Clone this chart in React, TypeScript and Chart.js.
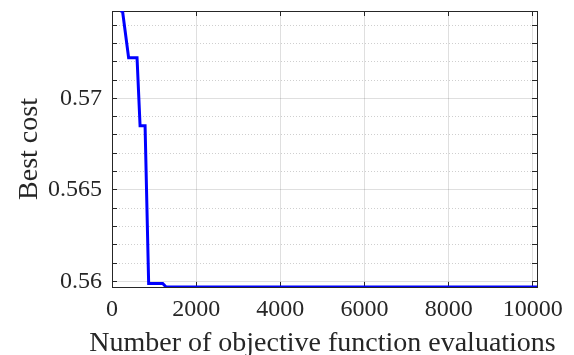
import React, { useEffect, useRef } from "react";
import { Chart, registerables } from "chart.js";

Chart.register(...registerables);

// Data
const evaluations = [195, 250, 395, 595, 667, 786, 871, 1205, 1286, 10100];
const bestCost = [0.57477, 0.57477, 0.57222, 0.57222, 0.5685, 0.5685, 0.55989, 0.55989, 0.5597, 0.5597];

const xTicks = [0, 2000, 4000, 6000, 8000, 10000];
const xTickLabels = ["0", "2000", "4000", "6000", "8000", "10000"];
const yMajorTicks = [0.56, 0.565, 0.57];
const yTickLabels = ["0.56", "0.565", "0.57"];
const yMinorTicks = [0.56, 0.561, 0.562, 0.563, 0.564, 0.565, 0.566, 0.567, 0.568, 0.569, 0.57, 0.571, 0.572, 0.573, 0.574];
const xTitle = "Number of objective function evaluations";
const yTitle = "Best cost";

const X_MIN = 0;
const X_MAX = 10100;
const Y_MIN = 0.5597;
const Y_MAX = 0.57477;

const FONT = "'Liberation Serif', 'Times New Roman', serif";
const AXIS = "#262626";
const MAJOR_GRID = "rgba(38,38,38,0.15)";
const MINOR_GRID = "rgba(38,38,38,0.22)";

const majorIndex = (v: number) => yMajorTicks.findIndex((m) => Math.abs(m - v) < 1e-7);

const zeroPad = (scale: any) => {
  scale.paddingLeft = 0;
  scale.paddingRight = 0;
  scale.paddingTop = 0;
  scale.paddingBottom = 0;
};

const xTitlePlugin = {
  id: "xTitlePlugin",
  afterDraw(chart: any) {
    const { ctx, chartArea } = chart;
    ctx.save();
    ctx.font = `28px ${FONT}`;
    ctx.fillStyle = AXIS;
    ctx.textAlign = "center";
    ctx.textBaseline = "alphabetic";
    ctx.fillText(xTitle, (chartArea.left + chartArea.right) / 2 - 2, 351);
    ctx.restore();
  },
};

export default function App() {
  const ref = useRef<HTMLCanvasElement>(null);
  useEffect(() => {
    if (!ref.current) return;
    const yTicksBuild = (scale: any) => {
      scale.ticks = yMinorTicks.map((v) => ({ value: v }));
    };
    const xTicksBuild = (scale: any) => {
      scale.ticks = xTicks.map((v) => ({ value: v }));
    };
    const yGridColor = (ctx: any) => {
      if (!ctx.tick) return MAJOR_GRID;
      return majorIndex(ctx.tick.value) >= 0 ? MAJOR_GRID : MINOR_GRID;
    };
    const yGridDash = (ctx: any) => {
      if (!ctx.tick) return [];
      return majorIndex(ctx.tick.value) >= 0 ? [] : [1, 2];
    };
    const chart = new Chart(ref.current, {
      type: "line",
      data: {
        datasets: [
          {
            data: evaluations.map((x, i) => ({ x, y: bestCost[i] })),
            borderColor: "#0000ff",
            borderWidth: 3,
            pointRadius: 0,
            tension: 0,
            fill: false,
          },
        ],
      },
      plugins: [xTitlePlugin],
      options: {
        responsive: false,
        animation: false,
        layout: { padding: { top: 11, right: 37, left: 0, bottom: 0 } },
        plugins: { legend: { display: false }, tooltip: { enabled: false } },
        scales: {
          x: {
            type: "linear",
            position: "bottom",
            min: X_MIN,
            max: X_MAX,
            afterBuildTicks: xTicksBuild,
            afterFit: (scale: any) => {
              scale.height = 68;
              zeroPad(scale);
            },
            ticks: {
              autoSkip: false,
              maxRotation: 0,
              padding: 13,
              color: AXIS,
              font: { family: FONT, size: 24 },
              callback: (v: any, i: number) => xTickLabels[i],
            },
            grid: {
              color: MAJOR_GRID,
              lineWidth: 1,
              tickLength: -5,
              tickColor: AXIS,
            },
            border: { color: AXIS, width: 1 },
            title: { display: false },
          },
          x2: {
            type: "linear",
            position: "top",
            min: X_MIN,
            max: X_MAX,
            afterBuildTicks: xTicksBuild,
            afterFit: (scale: any) => {
              scale.height = 0;
              zeroPad(scale);
            },
            ticks: { display: false },
            grid: { drawOnChartArea: false, tickLength: -5, tickColor: AXIS },
            border: { color: AXIS, width: 1 },
          },
          y: {
            type: "linear",
            position: "left",
            min: Y_MIN,
            max: Y_MAX,
            afterBuildTicks: yTicksBuild,
            afterFit: (scale: any) => {
              scale.width = 112;
              zeroPad(scale);
            },
            ticks: {
              autoSkip: false,
              padding: 15,
              color: AXIS,
              font: { family: FONT, size: 24 },
              callback: (v: any) => {
                const k = majorIndex(Number(v));
                return k >= 0 ? yTickLabels[k] : "";
              },
            },
            grid: {
              color: yGridColor,
              lineWidth: 1,
              tickLength: -5,
              tickColor: AXIS,
            },
            border: { color: AXIS, width: 1, dash: yGridDash },
            title: {
              display: true,
              text: yTitle,
              color: AXIS,
              font: { family: FONT, size: 28, lineHeight: 1.2 },
              padding: { top: 13, bottom: 0 },
            },
          },
          y2: {
            type: "linear",
            position: "right",
            min: Y_MIN,
            max: Y_MAX,
            afterBuildTicks: yTicksBuild,
            afterFit: (scale: any) => {
              scale.width = 0;
              zeroPad(scale);
            },
            ticks: { display: false },
            grid: { drawOnChartArea: false, tickLength: -5, tickColor: AXIS },
            border: { color: AXIS, width: 1 },
          },
        },
      },
    } as any);
    return () => chart.destroy();
  }, []);
  return (
    <div style={{ position: "absolute", left: 0, top: 0, width: 574, height: 355, background: "#fff" }}>
      <canvas ref={ref} width={574} height={355} style={{ display: "block", width: 574, height: 355 }} />
    </div>
  );
}
